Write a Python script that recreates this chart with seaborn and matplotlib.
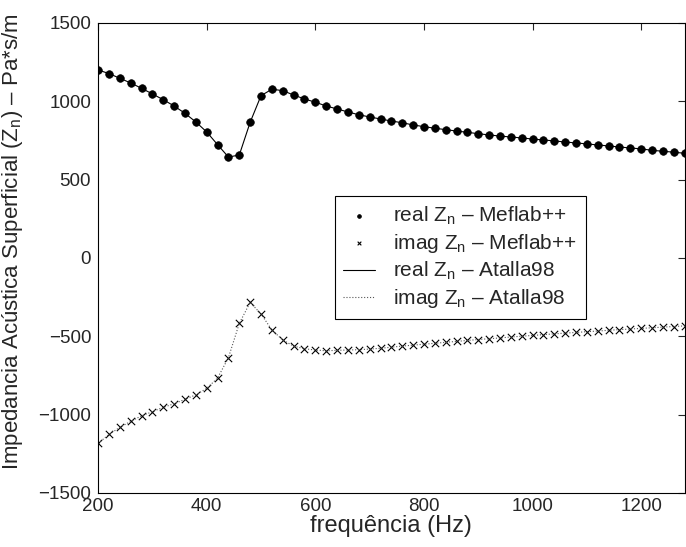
import numpy as np
import pandas as pd
import matplotlib
matplotlib.use('Agg')
import matplotlib.pyplot as plt
import seaborn as sns

# frequencias (Hz)
freq = list(range(200, 1281, 20))

# parte real de Zn (Pa*s/m)
real_zn = [1200, 1177, 1147, 1117, 1083, 1047, 1010, 970, 923, 868,
           804, 723, 644, 657, 866, 1036, 1077, 1068, 1040, 1015,
           994, 970, 951, 932, 914, 900, 887, 874, 863, 849,
           838, 828, 819, 810, 802, 793, 785, 778, 772, 766,
           759, 753, 747, 740, 734, 728, 721, 715, 708, 702,
           696, 687, 681, 675, 668]

# parte imaginaria de Zn (Pa*s/m)
imag_zn = [-1184, -1127, -1082, -1044, -1008, -982, -954, -931, -903, -874,
           -833, -767, -637, -418, -284, -358, -460, -524, -563, -580,
           -588, -593, -590, -588, -586, -582, -577, -570, -563, -557,
           -551, -545, -539, -533, -527, -521, -516, -511, -505, -500,
           -495, -490, -485, -480, -476, -471, -467, -462, -458, -454,
           -450, -446, -442, -438, -434]

df = pd.DataFrame({'freq': freq, 'real': real_zn, 'imag': imag_zn})

sns.set_style('white')
plt.rcParams['font.family'] = ['Liberation Sans', 'DejaVu Sans']
plt.rcParams['mathtext.fontset'] = 'custom'
plt.rcParams['mathtext.rm'] = 'Liberation Sans'
plt.rcParams['mathtext.it'] = 'Liberation Sans'

fig = plt.figure(figsize=(6.86, 5.47), dpi=100)
ax = fig.add_axes([0.143, 0.099, 0.855, 0.859])

# curvas Atalla98
sns.lineplot(data=df, x='freq', y='real', ax=ax, color='black', linewidth=0.8,
             label=r'real $\mathrm{Z}_\mathrm{n}$ – Atalla98')
sns.lineplot(data=df, x='freq', y='imag', ax=ax, color='#555555', linewidth=0.8,
             linestyle=':', label=r'imag $\mathrm{Z}_\mathrm{n}$ – Atalla98')
# pontos Meflab++
sns.scatterplot(data=df, x='freq', y='real', ax=ax, color='black', marker='o',
                s=30, edgecolor='black', linewidth=0.5,
                label=r'real $\mathrm{Z}_\mathrm{n}$ – Meflab++')
sns.scatterplot(data=df, x='freq', y='imag', ax=ax, color='black', marker='x',
                s=28, linewidth=0.8,
                label=r'imag $\mathrm{Z}_\mathrm{n}$ – Meflab++')

ax.set_xlim(200, 1280)
ax.set_ylim(-1500, 1500)
ax.set_xticks([200, 400, 600, 800, 1000, 1200])
ax.set_yticks([-1500, -1000, -500, 0, 500, 1000, 1500])
ax.set_yticklabels(['\u22121500', '\u22121000', '\u2212500', '0', '500', '1000', '1500'])
ax.tick_params(direction='in', top=True, right=True, labelsize=13.5, length=5,
               width=0.8)
ax.tick_params(axis='x', pad=3.5)
ax.tick_params(axis='y', pad=5)
for s in ax.spines.values():
    s.set_color('black')
    s.set_linewidth(0.8)

ax.set_xlabel('frequência (Hz)', fontsize=17, labelpad=0)
ax.set_ylabel(r'Impedancia Acústica Superficial ($\mathrm{Z}_\mathrm{n}$) – Pa*s/m',
              fontsize=16)
ax.yaxis.set_label_coords(-0.125, 0.534)

handles, labels = ax.get_legend_handles_labels()
order = [2, 3, 0, 1]
leg = ax.legend([handles[i] for i in order], [labels[i] for i in order],
                loc='upper left', bbox_to_anchor=(0.404, 0.632), borderaxespad=0,
                fontsize=15, frameon=True, fancybox=False, edgecolor='black',
                framealpha=1, handlelength=1.5, handletextpad=0.9,
                markerscale=0.5, labelspacing=0.25)
leg.get_frame().set_linewidth(0.8)

fig.savefig('out.png', dpi=100)
